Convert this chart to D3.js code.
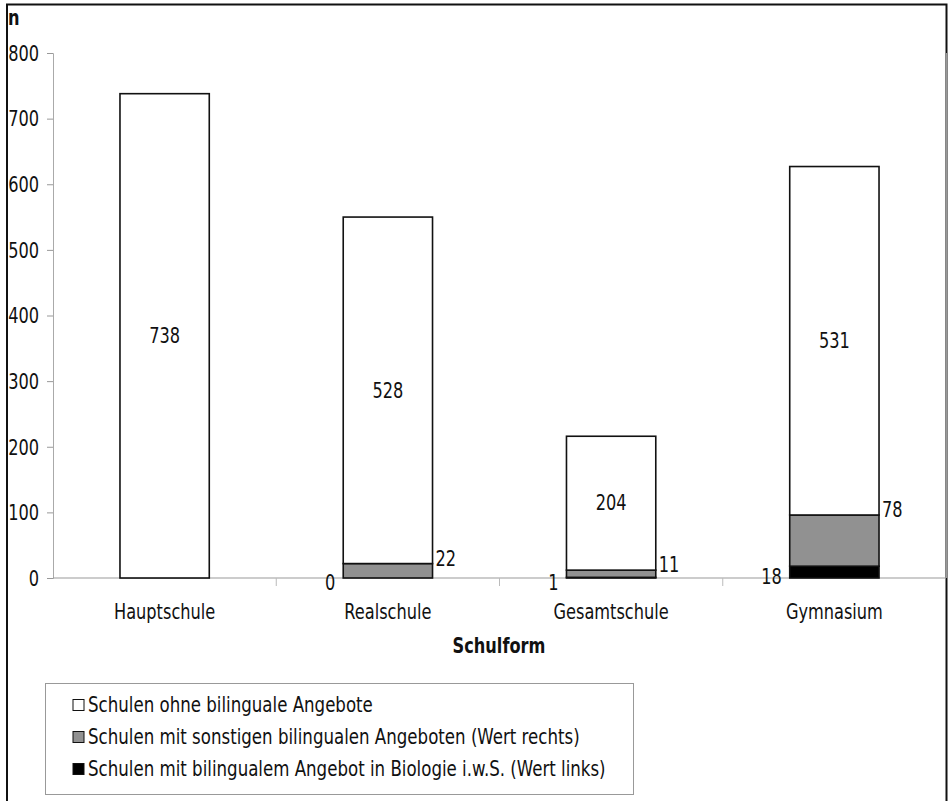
<!DOCTYPE html>
<html><head><meta charset="utf-8">
<script src="https://cdn.jsdelivr.net/npm/d3@7"></script>
<style>body{margin:0;background:#fff}svg{display:block}text{font-family:"DejaVu Sans Condensed","DejaVu Sans",sans-serif;font-stretch:condensed}</style>
</head><body>
<script>
const categories = ["Hauptschule", "Realschule", "Gesamtschule", "Gymnasium"];
const biologie = [0, 0, 1, 18];          // Schulen mit bilingualem Angebot in Biologie i.w.S.
const sonstige = [0, 22, 11, 78];        // Schulen mit sonstigen bilingualen Angeboten
const ohne = [738, 528, 204, 531];       // Schulen ohne bilinguale Angebote
const showBio = [false, true, true, true];
const showSonst = [false, true, true, true];
const yTicks = [0, 100, 200, 300, 400, 500, 600, 700, 800];
const legendLabels = [
  "Schulen ohne bilinguale Angebote",
  "Schulen mit sonstigen bilingualen Angeboten (Wert rechts)",
  "Schulen mit bilingualem Angebot in Biologie i.w.S. (Wert links)"
];
const colors = ["#ffffff", "#919191", "#000000"];

const W = 949, H = 801, FS = 18, SY = 1.15;
const svg = d3.select("body").append("svg").attr("width", W).attr("height", H);

function txt(g, x, y, s, anchor, bold, fs) {
  return g.append("text")
    .attr("transform", `translate(${x},${y}) scale(1,${SY})`)
    .attr("dy", "0.35em").attr("text-anchor", anchor || "start")
    .attr("font-size", fs || FS).attr("font-weight", bold ? "bold" : null)
    .attr("fill", "#111").text(s);
}

// outer frame
svg.append("path").attr("d", `M7,801 V4.5 H946.5 V801`).attr("fill", "none").attr("stroke", "#111").attr("stroke-width", 2);

const x = d3.scaleBand().domain(categories).range([53, 946]).paddingInner(0.6).paddingOuter(0.3);
const xb = d3.scaleBand().domain(categories).range([53, 946]);
const y = d3.scaleLinear().domain([0, 800]).range([578, 53]);

// y axis
const yAxis = svg.append("g").attr("transform", "translate(53,0)")
  .call(d3.axisLeft(y).tickValues(yTicks).tickSize(6).tickPadding(0));
yAxis.select(".domain").attr("stroke", "#aaa");
yAxis.selectAll(".tick line").attr("stroke", "#999");
yAxis.selectAll(".tick text").attr("x", null).attr("dy", "0.35em")
  .attr("transform", `translate(-14,0) scale(1,${SY})`)
  .attr("font-size", FS).attr("fill", "#111").attr("font-family", "DejaVu Sans Condensed");

// x axis line and ticks
svg.append("line").attr("x1", 53).attr("x2", 946).attr("y1", 578).attr("y2", 578).attr("stroke", "#999");
svg.append("line").attr("x1", 946.5).attr("x2", 946.5).attr("y1", 53).attr("y2", 578).attr("stroke", "#999");
svg.selectAll(".xt").data(categories.slice(1)).enter().append("line")
  .attr("x1", d => xb(d)).attr("x2", d => xb(d)).attr("y1", 578).attr("y2", 586).attr("stroke", "#bbb");

// stacked bars
const stackData = categories.map((c, i) => ({cat: c, bio: biologie[i], sonst: sonstige[i], ohne: ohne[i]}));
const stack = d3.stack().keys(["bio", "sonst", "ohne"])(stackData);
stack.forEach((layer, li) => {
  svg.append("g").selectAll("rect").data(layer).enter().append("rect")
    .attr("x", d => x(d.data.cat))
    .attr("width", x.bandwidth())
    .attr("y", d => y(d[1]))
    .attr("height", d => Math.max(0, y(d[0]) - y(d[1])))
    .attr("fill", colors[li === 0 ? 2 : li === 1 ? 1 : 0])
    .attr("stroke", "#111")
    .attr("stroke-width", d => (d[1] - d[0]) > 0 ? 1.6 : 0);
});

// labels
const lab = svg.append("g");
stack[2].forEach((d, i) => {
  txt(lab, x(d.data.cat) + x.bandwidth() / 2, y((d[0] + d[1]) / 2), ohne[i], "middle");
});
stack[1].forEach((d, i) => {
  if (!showSonst[i]) return;
  txt(lab, x(d.data.cat) + x.bandwidth() + 3, y(d[1]) - 5, sonstige[i], "start");
});
stack[0].forEach((d, i) => {
  if (!showBio[i]) return;
  txt(lab, x(d.data.cat) - 8, y((d[0] + d[1]) / 2) + 5, biologie[i], "end");
});

// category labels
const cg = svg.append("g");
categories.forEach(c => txt(cg, xb(c) + xb.bandwidth() / 2, 612, c, "middle"));

// axis titles
txt(svg, 499, 646, "Schulform", "middle", true);
txt(svg, 8, 18, "n", "start", true);

// legend
const lg = svg.append("g");
lg.append("rect").attr("x", 45.5).attr("y", 683.5).attr("width", 588).attr("height", 111)
  .attr("fill", "#fff").attr("stroke", "#999");
const legY = [705, 737, 769];
legendLabels.forEach((t, i) => {
  lg.append("rect").attr("x", 73).attr("y", legY[i] - 5.5).attr("width", 11).attr("height", 11)
    .attr("fill", colors[i]).attr("stroke", "#111").attr("stroke-width", 1);
  txt(lg, 88, legY[i], t, "start", false, 18.5);
});
</script>
</body></html>
